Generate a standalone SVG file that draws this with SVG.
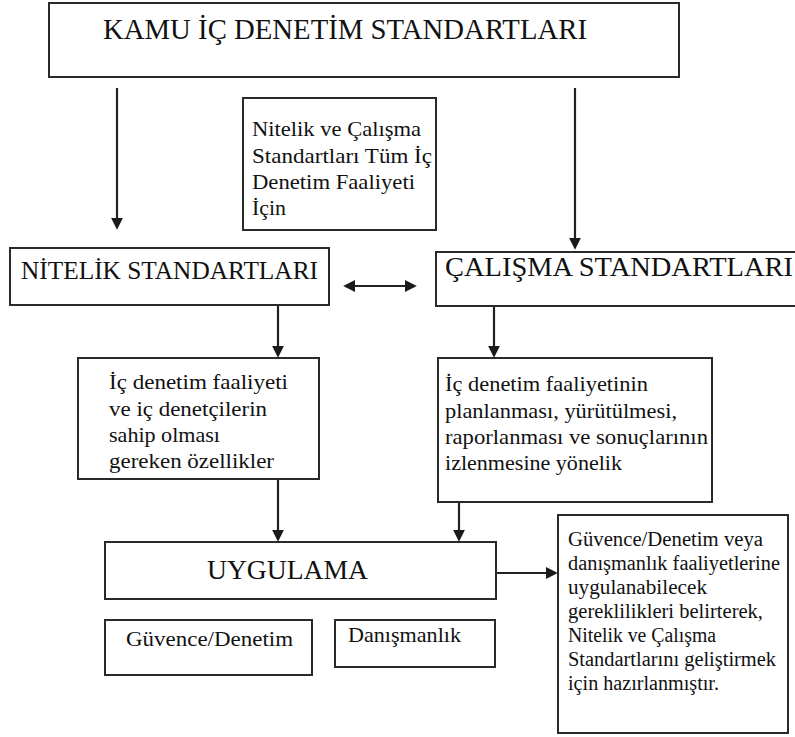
<svg xmlns="http://www.w3.org/2000/svg" width="795" height="737" viewBox="0 0 795 737">
  <style>
    .box { fill: #ffffff; stroke: #2a2a2a; stroke-width: 2; }
    .conn { stroke: #222; stroke-width: 2.2; fill: none; }
  </style>
  <defs>
    <!-- filled triangular arrowhead; line ends inside it so the tip stays sharp -->
    <marker id="head" viewBox="0 0 10 10" refX="6" refY="5" markerWidth="12" markerHeight="12" orient="auto-start-reverse" markerUnits="userSpaceOnUse">
      <path d="M0,0 L10,5 L0,10 z" fill="#1a1a1a"/>
    </marker>
  </defs>
  <rect width="795" height="737" fill="#ffffff"/>

  <g font-family="'Liberation Serif', 'Times New Roman', serif" fill="#111">
  <g id="kamu">
    <rect class="box" x="49" y="3" width="630" height="74"/>
    <text x="103" y="39" font-size="28.5" textLength="484" lengthAdjust="spacingAndGlyphs">KAMU İÇ DENETİM STANDARTLARI</text>
  </g>

  <g id="kapsam">
    <rect class="box" x="243" y="98" width="193" height="132"/>
    <text font-size="21">
      <tspan x="252" y="136" textLength="169" lengthAdjust="spacingAndGlyphs">Nitelik ve Çalışma</tspan>
      <tspan x="252" y="163" textLength="180" lengthAdjust="spacingAndGlyphs">Standartları Tüm İç</tspan>
      <tspan x="252" y="189" textLength="163" lengthAdjust="spacingAndGlyphs">Denetim Faaliyeti</tspan>
      <tspan x="252" y="215" textLength="34" lengthAdjust="spacingAndGlyphs">İçin</tspan>
    </text>
  </g>

  <g id="nitelik">
    <rect class="box" x="10" y="248" width="319" height="57"/>
    <text x="21" y="279" font-size="25" textLength="297" lengthAdjust="spacingAndGlyphs">NİTELİK STANDARTLARI</text>
  </g>

  <g id="calisma">
    <rect class="box" x="436" y="252" width="370" height="54"/>
    <text x="445" y="276" font-size="27" textLength="348" lengthAdjust="spacingAndGlyphs">ÇALIŞMA STANDARTLARI</text>
  </g>

  <g id="nitelik-aciklama">
    <rect class="box" x="78" y="358" width="241" height="121"/>
    <text font-size="21.5">
      <tspan x="109" y="389" textLength="179" lengthAdjust="spacingAndGlyphs">İç denetim faaliyeti</tspan>
      <tspan x="109" y="416" textLength="158" lengthAdjust="spacingAndGlyphs">ve iç denetçilerin</tspan>
      <tspan x="109" y="442" textLength="111" lengthAdjust="spacingAndGlyphs">sahip olması</tspan>
      <tspan x="109" y="468" textLength="165" lengthAdjust="spacingAndGlyphs">gereken özellikler</tspan>
    </text>
  </g>

  <g id="calisma-aciklama">
    <rect class="box" x="438" y="358" width="274" height="144"/>
    <text font-size="21.5">
      <tspan x="445" y="391" textLength="203" lengthAdjust="spacingAndGlyphs">İç denetim faaliyetinin</tspan>
      <tspan x="445" y="418" textLength="232" lengthAdjust="spacingAndGlyphs">planlanması, yürütülmesi,</tspan>
      <tspan x="445" y="444" textLength="263" lengthAdjust="spacingAndGlyphs">raporlanması ve sonuçlarının</tspan>
      <tspan x="445" y="470" textLength="177" lengthAdjust="spacingAndGlyphs">izlenmesine yönelik</tspan>
    </text>
  </g>

  <g id="uygulama">
    <rect class="box" x="105" y="542" width="391" height="57"/>
    <text x="207" y="579" font-size="27" textLength="161" lengthAdjust="spacingAndGlyphs">UYGULAMA</text>
  </g>

  <g id="guvence">
    <rect class="box" x="105" y="620" width="207" height="55"/>
    <text x="126" y="646" font-size="22" textLength="167" lengthAdjust="spacingAndGlyphs">Güvence/Denetim</text>
  </g>

  <g id="danismanlik">
    <rect class="box" x="335" y="620" width="160" height="47"/>
    <text x="348" y="642" font-size="22" textLength="113" lengthAdjust="spacingAndGlyphs">Danışmanlık</text>
  </g>

  <g id="amac">
    <rect class="box" x="558" y="515" width="230" height="218"/>
    <text font-size="20">
      <tspan x="568" y="546" textLength="195" lengthAdjust="spacingAndGlyphs">Güvence/Denetim veya</tspan>
      <tspan x="568" y="570" textLength="212" lengthAdjust="spacingAndGlyphs">danışmanlık faaliyetlerine</tspan>
      <tspan x="568" y="594" textLength="139" lengthAdjust="spacingAndGlyphs">uygulanabilecek</tspan>
      <tspan x="568" y="618" textLength="195" lengthAdjust="spacingAndGlyphs">gereklilikleri belirterek,</tspan>
      <tspan x="568" y="642" textLength="148" lengthAdjust="spacingAndGlyphs">Nitelik ve Çalışma</tspan>
      <tspan x="568" y="666" textLength="208" lengthAdjust="spacingAndGlyphs">Standartlarını geliştirmek</tspan>
      <tspan x="568" y="690" textLength="151" lengthAdjust="spacingAndGlyphs">için hazırlanmıştır.</tspan>
    </text>
  </g>
  </g>

  <g id="connectors">
    <line class="conn" x1="117" y1="88" x2="117" y2="225" marker-end="url(#head)"/>
    <line class="conn" x1="575" y1="88" x2="575" y2="245" marker-end="url(#head)"/>
    <line class="conn" x1="348" y1="286" x2="412" y2="286" marker-start="url(#head)" marker-end="url(#head)"/>
    <line class="conn" x1="278" y1="306" x2="278" y2="353" marker-end="url(#head)"/>
    <line class="conn" x1="494" y1="307" x2="494" y2="353" marker-end="url(#head)"/>
    <line class="conn" x1="278" y1="480" x2="278" y2="537" marker-end="url(#head)"/>
    <line class="conn" x1="459" y1="503" x2="459" y2="537" marker-end="url(#head)"/>
    <line class="conn" x1="497" y1="573" x2="553" y2="573" marker-end="url(#head)"/>
  </g>
</svg>
